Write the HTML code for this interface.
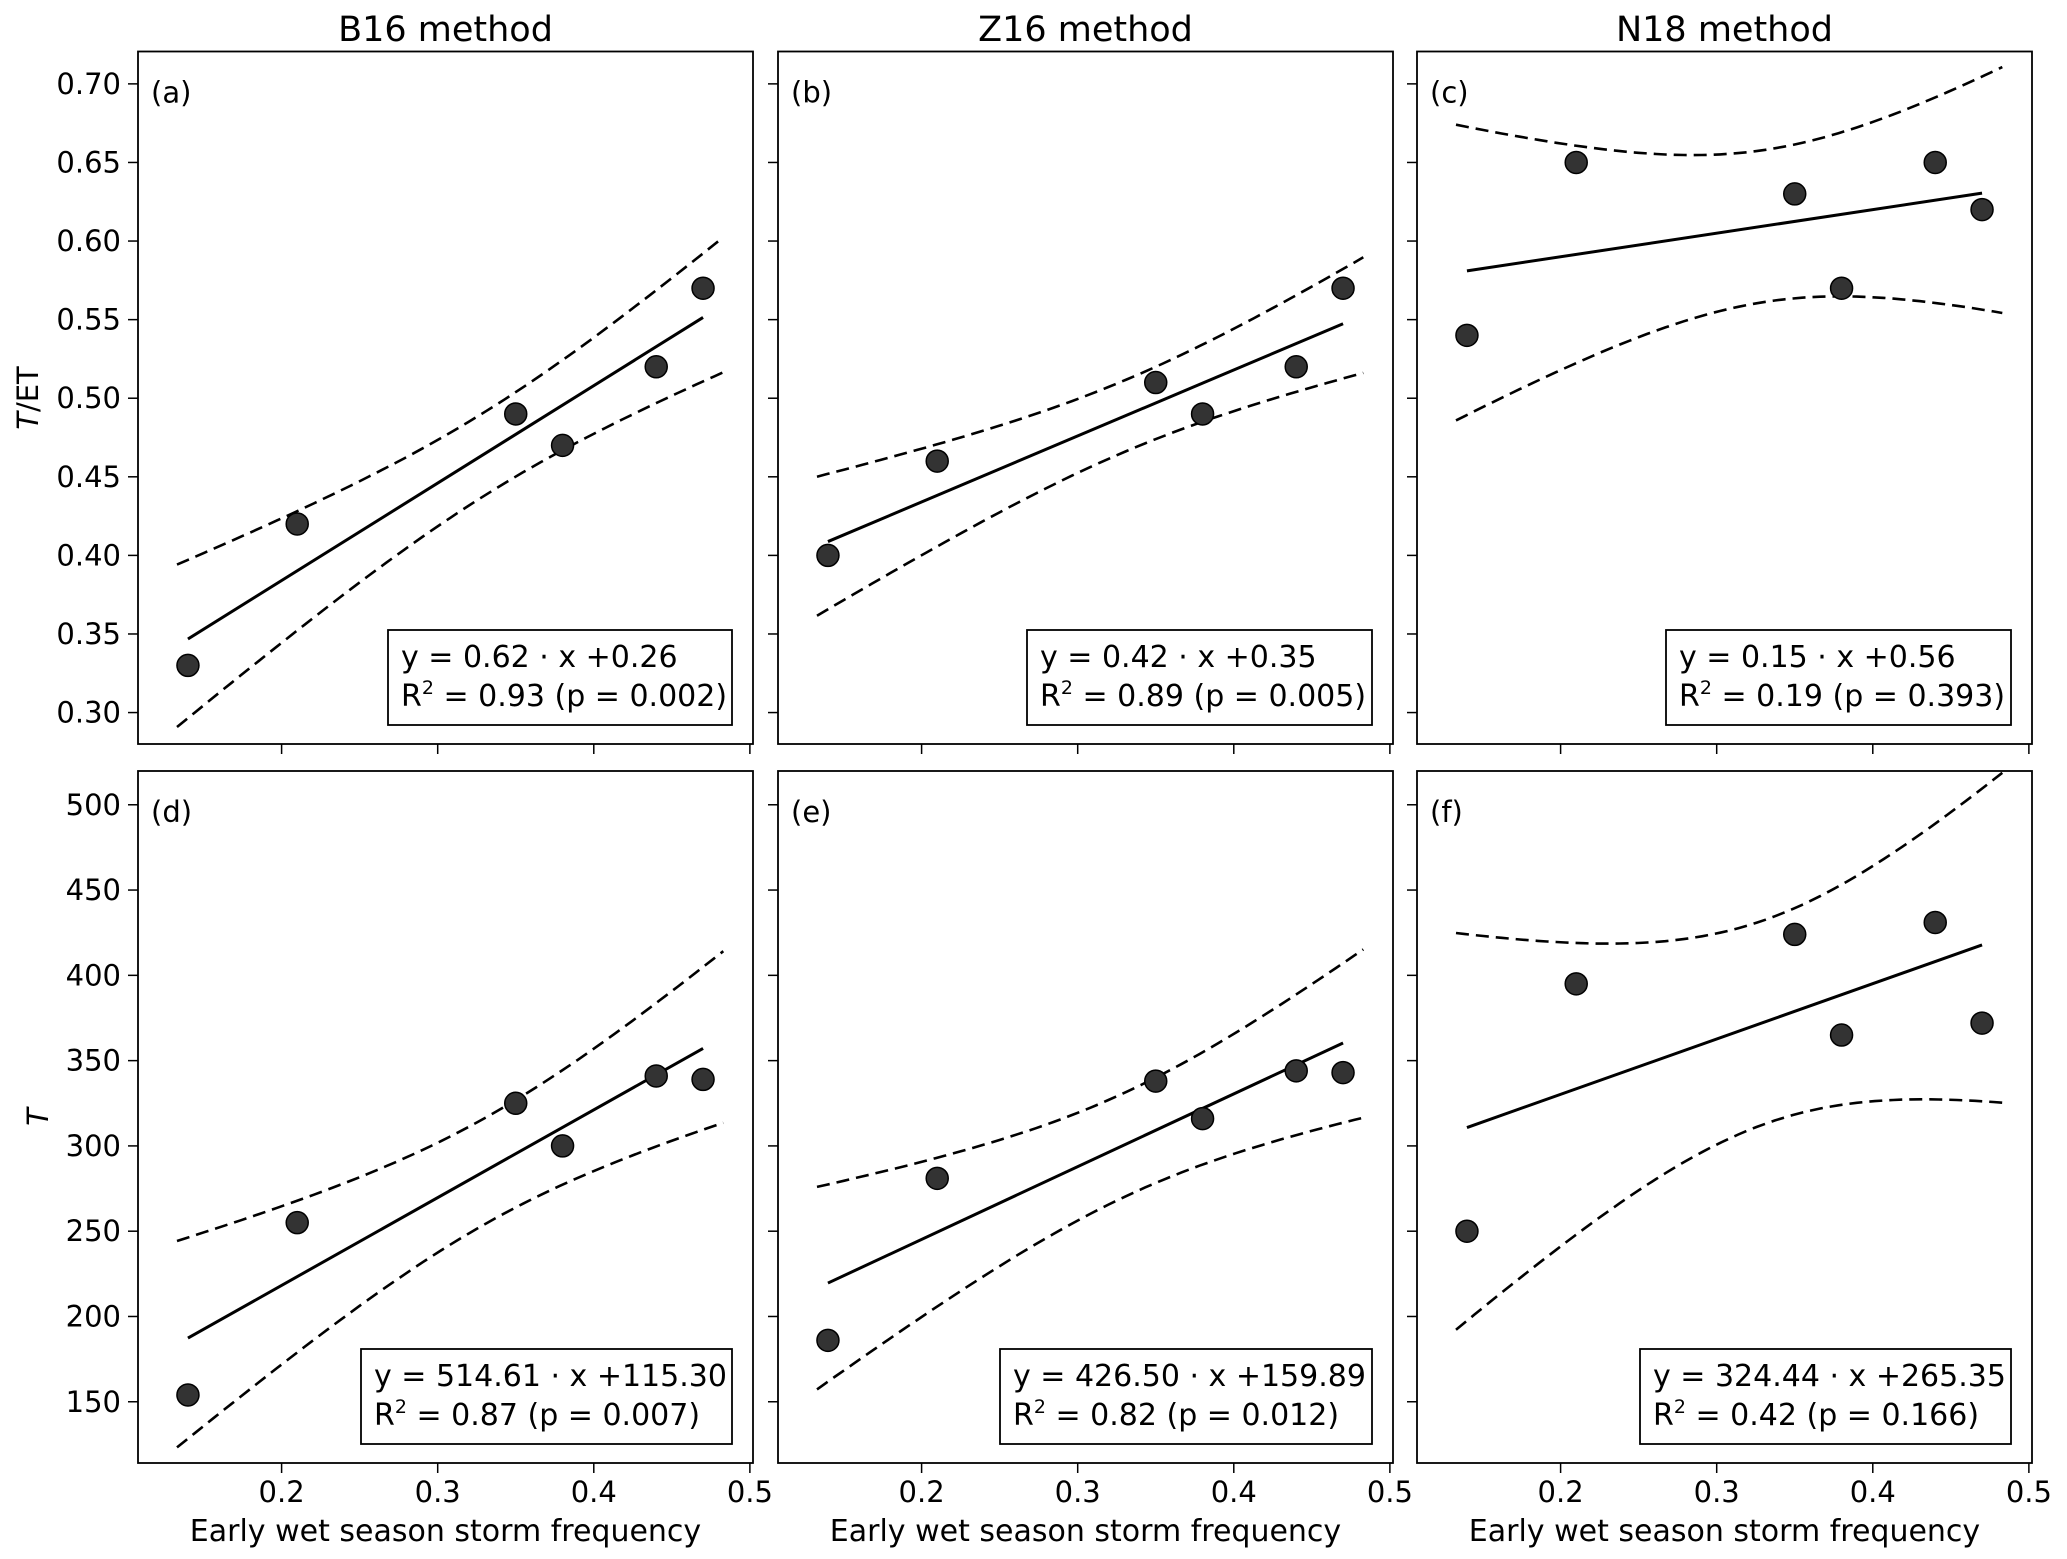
<!DOCTYPE html>
<html><head><meta charset="utf-8">
<style>
html,body{margin:0;padding:0;background:#fff;}
svg{display:block;font-family:"DejaVu Sans","Liberation Sans",sans-serif;}
</style></head>
<body>
<svg id="fig" width="2067" height="1559" viewBox="0 0 2067 1559" xmlns="http://www.w3.org/2000/svg"></svg>
<script>
const xValues = [0.14, 0.21, 0.35, 0.38, 0.44, 0.47];
const yA = [0.33, 0.42, 0.49, 0.47, 0.52, 0.57];
const yB = [0.40, 0.46, 0.51, 0.49, 0.52, 0.57];
const yC = [0.54, 0.65, 0.63, 0.57, 0.65, 0.62];
const yD = [154, 255, 325, 300, 341, 339];
const yE = [186, 281, 338, 316, 344, 343];
const yF = [250, 395, 424, 365, 431, 372];
const slopes = [0.62, 0.42, 0.15, 514.61, 426.50, 324.44];
const intercepts = [0.26, 0.35, 0.56, 115.30, 159.89, 265.35];
const eqLabels = ["y = 0.62 · x +0.26","y = 0.42 · x +0.35","y = 0.15 · x +0.56","y = 514.61 · x +115.30","y = 426.50 · x +159.89","y = 324.44 · x +265.35"];
const r2Values = ["0.93","0.89","0.19","0.87","0.82","0.42"];
const pValues = ["0.002","0.005","0.393","0.007","0.012","0.166"];
const panelLetters = ["(a)","(b)","(c)","(d)","(e)","(f)"];
const columnTitles = ["B16 method","Z16 method","N18 method"];
const xTicks = [0.2, 0.3, 0.4, 0.5];
const yTicksTop = [0.30,0.35,0.40,0.45,0.50,0.55,0.60,0.65,0.70];
const yTicksBottom = [150,200,250,300,350,400,450,500];

const NS="http://www.w3.org/2000/svg";
const svg=document.getElementById('fig');
function mk(tag,attrs,parent){const e=document.createElementNS(NS,tag);for(const k in attrs)e.setAttribute(k,attrs[k]);(parent||svg).appendChild(e);return e;}

const colLeft=[138,778,1417], W=615;
const rows=[{top:51.5,bot:744,ymin:0.2800,ymax:0.7206,ticks:yTicksTop,fmt:v=>v.toFixed(2),series:[yA,yB,yC]},
            {top:771,bot:1463,ymin:114.1,ymax:519.8,ticks:yTicksBottom,fmt:v=>String(v),series:[yD,yE,yF]}];
const boxLeft=[[388,1027,1666],[361,1000,1640]];
const xmin=0.108,xmax=0.502;
const tcrit=2.6;

rows.forEach((row,ri)=>{
  for(let ci=0;ci<3;ci++){
    const idx=ri*3+ci;
    const L=colLeft[ci],R=L+W;
    const xs=v=>L+(v-xmin)/(xmax-xmin)*W;
    const ys=v=>row.bot-(v-row.ymin)/(row.ymax-row.ymin)*(row.bot-row.top);
    const g=mk('g',{});
    
    
    if(ri===0){
      const t=mk('text',{x:L+W/2,y:41,'text-anchor':'middle','font-size':35,fill:'#000'},g);
      t.textContent=columnTitles[ci];
      
      
    }
    row.ticks.forEach(v=>{
      const y=ys(v);
      const tk=mk('line',{x1:L-10,x2:L,y1:y,y2:y,stroke:'#000','stroke-width':1.5},g);
      
      
      if(ci===0){
        const tl=mk('text',{x:121,y:y+10,'text-anchor':'end','font-size':29,fill:'#000'},g);
        tl.textContent=row.fmt(v);
        
        
      }
    });
    xTicks.forEach(v=>{
      const x=xs(v);
      const tk=mk('line',{x1:x,x2:x,y1:row.bot,y2:row.bot+10,stroke:'#000','stroke-width':1.5},g);
      
      
      if(ri===1){
        const tl=mk('text',{x:x,y:1502,'text-anchor':'middle','font-size':29,fill:'#000'},g);
        tl.textContent=v.toFixed(1);
        
        
      }
    });
    if(ri===1){
      const xl=mk('text',{x:L+W/2,y:1541,'text-anchor':'middle','font-size':30,fill:'#000'},g);
      xl.textContent='Early wet season storm frequency';
      
      
    }
    const yv=row.series[ci], a=slopes[idx], b=intercepts[idx], n=xValues.length;
    const xm=xValues.reduce((s,v)=>s+v,0)/n;
    const sxx=xValues.reduce((s,v)=>s+(v-xm)*(v-xm),0);
    const sse=xValues.reduce((s,v,i)=>s+Math.pow(yv[i]-(a*v+b),2),0);
    const se=Math.sqrt(sse/(n-2));
    const up=[],lo=[];
    const x0=0.133,x1=0.483;
    for(let k=0;k<=60;k++){
      const x=x0+(x1-x0)*k/60;
      const h=tcrit*se*Math.sqrt(1/n+(x-xm)*(x-xm)/sxx);
      up.push(xs(x).toFixed(1)+','+ys(a*x+b+h).toFixed(1));
      lo.push(xs(x).toFixed(1)+','+ys(a*x+b-h).toFixed(1));
    }
    const cu=mk('polyline',{points:up.join(' '),fill:'none',stroke:'#000','stroke-width':2.6,'stroke-dasharray':'13,7'},g);
    
    
    const cl=mk('polyline',{points:lo.join(' '),fill:'none',stroke:'#000','stroke-width':2.6,'stroke-dasharray':'13,7'},g);
    
    
    const xa=Math.min(...xValues), xb=Math.max(...xValues);
    const fl=mk('line',{x1:xs(xa),y1:ys(a*xa+b),x2:xs(xb),y2:ys(a*xb+b),stroke:'#000','stroke-width':3},g);
    
    
    xValues.forEach((v,i)=>{
      const c=mk('circle',{cx:xs(v),cy:ys(yv[i]),r:11,fill:'#333',stroke:'#000','stroke-width':1.5},g);
      
      
    });
    const fr=mk('rect',{x:L,y:row.top,width:W,height:row.bot-row.top,fill:'none',stroke:'#000','stroke-width':1.8},g);
    
    
    const pl=mk('text',{x:L+13,y:row.top+51,'font-size':29,fill:'#000'},g);
    pl.textContent=panelLetters[idx];
    
    
    const bx=boxLeft[ri][ci], bR=R-21;
    const bTop=row.bot-114, bBot=row.bot-19;
    const box=mk('rect',{x:bx,y:bTop,width:bR-bx,height:bBot-bTop,fill:'#fff',stroke:'#000','stroke-width':1.8},g);
    
    
    const t1=mk('text',{x:bx+13,y:bTop+37,'font-size':30,fill:'#000'},g);
    t1.textContent=eqLabels[idx];
    
    
    const t2=mk('text',{x:bx+13,y:bTop+76,'font-size':30,fill:'#000'},g);
    
    
    const s1=mk('tspan',{},t2); s1.textContent='R';
    const s2=mk('tspan',{'font-size':19,dy:-12},t2); s2.textContent='2';
    const s3=mk('tspan',{dy:12},t2); s3.textContent=' = '+r2Values[idx]+' (p = '+pValues[idx]+')';
  }
});
const ya=mk('text',{x:0,y:0,'text-anchor':'middle','font-size':29,fill:'#000',transform:'translate(38,398) rotate(-90)'});


const ta=mk('tspan',{'font-style':'italic'},ya); ta.textContent='T';
const tb=mk('tspan',{},ya); tb.textContent='/ET';
const yb=mk('text',{x:0,y:0,'text-anchor':'middle','font-size':29,fill:'#000','font-style':'italic',transform:'translate(48,1117) rotate(-90)'});
yb.textContent='T';


</script>
</body></html>
